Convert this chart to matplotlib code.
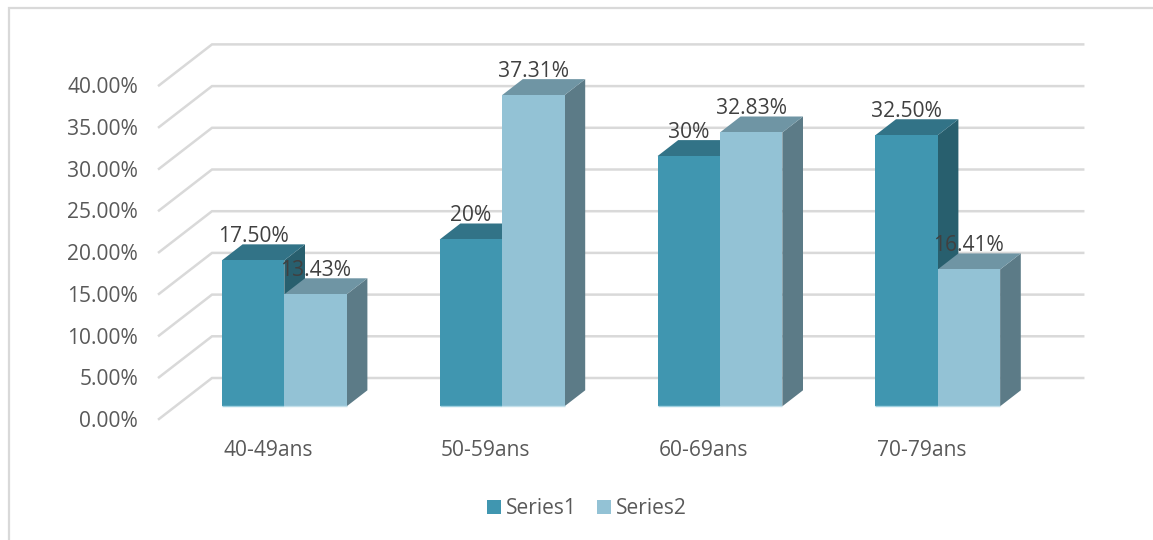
import matplotlib
matplotlib.use("Agg")
import matplotlib.pyplot as plt
from matplotlib.patches import Polygon

plt.rcParams["font.family"] = ["Open Sans", "DejaVu Sans"]

# Chart data
age_groups = ["40-49ans", "50-59ans", "60-69ans", "70-79ans"]
series1 = [17.50, 20.0, 30.0, 32.50]
series2 = [13.43, 37.31, 32.83, 16.41]
series1_labels = ["17.50%", "20%", "30%", "32.50%"]
series2_labels = ["13.43%", "37.31%", "32.83%", "16.41%"]
y_ticks = [0, 5, 10, 15, 20, 25, 30, 35, 40]

# Colours of the shaded box faces
C1_FRONT, C1_TOP, C1_SIDE = "#4096b0", "#327387", "#285f6e"
C2_FRONT, C2_TOP, C2_SIDE = "#93c2d5", "#6f95a4", "#5c7b87"
C1_EDGE, C2_EDGE = "#9fd0df", "#c3e0ea"
GRID = "#d9d9d9"
TEXT = "#595959"
LABEL = "#404040"
FONT_SIZE = 15.1

W, H = 1153, 540
fig = plt.figure(figsize=(W / 100, H / 100), dpi=100)
ax = fig.add_axes([0, 0, 1, 1])

# Axis scale: one x unit per category, y in percent
PX_X = 217.8
PX_Y = 8.34
X0, Y0 = 159.0, 419.0
ax.set_xlim(-X0 / PX_X, (W - X0) / PX_X)
ax.set_ylim(-(H - Y0) / PX_Y, Y0 / PX_Y)
ax.axis("off")

# Oblique depth: a full unit of depth shifts the point by these amounts
DEPTH_X = 53 / PX_X
DEPTH_Y = 41 / PX_Y


def proj(x, v, d):
    return (x + d * DEPTH_X, v + d * DEPTH_Y)


# Top and left rules of the chart frame, running off the page edges
ax.plot([8.5 / W, 8.5 / W, 1], [0, 1 - 8 / H, 1 - 8 / H], transform=ax.transAxes,
        color=GRID, lw=1.6, zorder=0, solid_joinstyle="miter", clip_on=False)

# Side wall and back wall gridlines with the value axis labels
n = len(age_groups)
for t in y_ticks:
    pts = [proj(0, t, 0), proj(0, t, 1), proj(n, t, 1)]
    ax.plot(*zip(*pts), color=GRID, lw=1.8, zorder=1, solid_joinstyle="miter")
    ax.text((138 - X0) / PX_X, t - 2.5 / PX_Y, f"{t:.2f}%", ha="right", va="center",
            fontsize=FONT_SIZE, color=TEXT, zorder=5)

BAR_W = 62.4 / PX_X
D0, D1 = 0.31, 0.70
GROUP_LEFT = 0.5 - BAR_W
LABEL_LIFT = 23.5 / PX_Y


def box(x, v, front, top, side, edge, z):
    ax.add_patch(Polygon([proj(x + BAR_W, 0, D0), proj(x + BAR_W, 0, D1),
                          proj(x + BAR_W, v, D1), proj(x + BAR_W, v, D0)],
                         fc=side, ec="none", zorder=z))
    ax.add_patch(Polygon([proj(x, v, D0), proj(x, v, D1),
                          proj(x + BAR_W, v, D1), proj(x + BAR_W, v, D0)],
                         fc=top, ec="none", zorder=z))
    ax.add_patch(Polygon([proj(x, 0, D0), proj(x + BAR_W, 0, D0),
                          proj(x + BAR_W, v, D0), proj(x, v, D0)],
                         fc=front, ec="none", zorder=z + 0.1))
    # Pale highlight along the foot of the front face
    ax.plot(*zip(proj(x, 0, D0), proj(x + BAR_W, 0, D0)), color=edge, lw=1.0,
            zorder=z + 0.2, solid_capstyle="butt")


for i, label in enumerate(age_groups):
    x1 = i + GROUP_LEFT
    x2 = x1 + BAR_W
    box(x1, series1[i], C1_FRONT, C1_TOP, C1_SIDE, C1_EDGE, 2)
    box(x2, series2[i], C2_FRONT, C2_TOP, C2_SIDE, C2_EDGE, 3)

    # Value labels are centred above the front face of each box
    for x, v, text in [(x1, series1[i], series1_labels[i]), (x2, series2[i], series2_labels[i])]:
        px, py = proj(x + BAR_W / 2, v, D0)
        ax.text(px, py + LABEL_LIFT, text, ha="center", va="center",
                fontsize=FONT_SIZE, color=LABEL, zorder=6)

    # Category label below the floor
    ax.text(i + 0.5, -3.75, label, ha="center", va="center", fontsize=FONT_SIZE,
            color=TEXT, zorder=5)

# Legend row: swatches and their names
legend_y = -(507 - Y0) / PX_Y
for name, col, sx, tx in [("Series1", C1_FRONT, 487, 506), ("Series2", C2_FRONT, 597, 616)]:
    ax.add_patch(plt.Rectangle(((sx - X0) / PX_X, legend_y - 7 / PX_Y), 14 / PX_X, 14 / PX_Y,
                               fc=col, ec="none", zorder=5))
    ax.text((tx - X0) / PX_X, legend_y - 1 / PX_Y, name, ha="left", va="center",
            fontsize=FONT_SIZE, color=TEXT, zorder=5)

fig.savefig("out.png", dpi=100, facecolor="white")
